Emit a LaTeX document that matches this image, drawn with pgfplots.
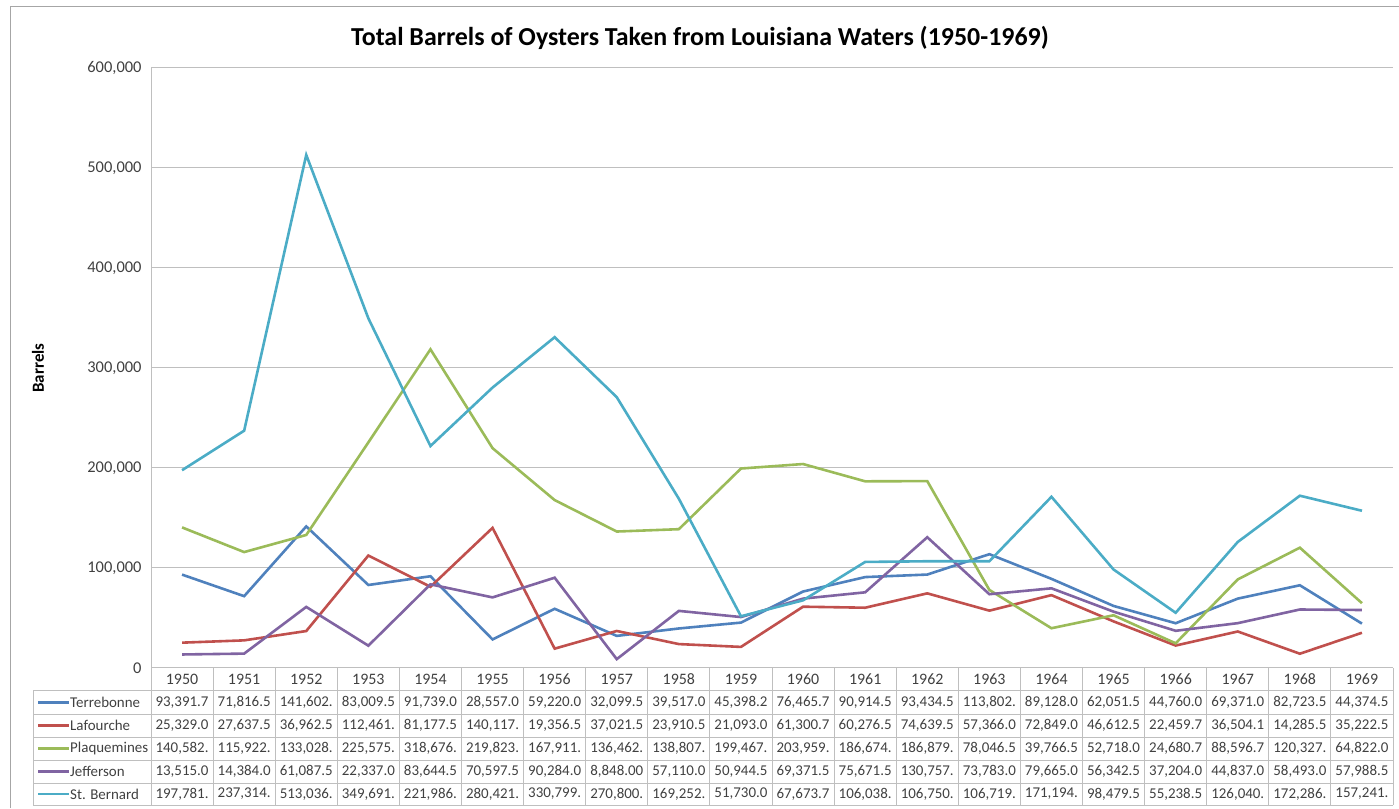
\documentclass[border=0pt]{standalone}
\usepackage{pgfplots}
\pgfplotsset{compat=1.18}
\usepackage{pgfplotstable}
\usepackage{fontspec}
\setmainfont{Carlito}
\definecolor{cT}{HTML}{4F81BD}
\definecolor{cL}{HTML}{C0504D}
\definecolor{cP}{HTML}{9BBB59}
\definecolor{cJ}{HTML}{8064A2}
\definecolor{cS}{HTML}{4BACC6}
\definecolor{gridc}{HTML}{BFBFBF}
\definecolor{txtc}{HTML}{404040}
\pgfplotstableread{
x T L P J S
0 93391.7 25329.0 140582 13515.0 197781
1 71816.5 27637.5 115922 14384.0 237314
2 141602 36962.5 133028 61087.5 513036
3 83009.5 112461 225575 22337.0 349691
4 91739.0 81177.5 318676 83644.5 221986
5 28557.0 140117 219823 70597.5 280421
6 59220.0 19356.5 167911 90284.0 330799
7 32099.5 37021.5 136462 8848.0 270800
8 39517.0 23910.5 138807 57110.0 169252
9 45398.2 21093.0 199467 50944.5 51730.0
10 76465.7 61300.7 203959 69371.5 67673.7
11 90914.5 60276.5 186674 75671.5 106038
12 93434.5 74639.5 186879 130757 106750
13 113802 57366.0 78046.5 73783.0 106719
14 89128.0 72849.0 39766.5 79665.0 171194
15 62051.5 46612.5 52718.0 56342.5 98479.5
16 44760.0 22459.7 24680.7 37204.0 55238.5
17 69371.0 36504.1 88596.7 44837.0 126040
18 82723.5 14285.5 120327 58493.0 172286
19 44374.5 35222.5 64822.0 57988.5 157241
}\data
\begin{document}
\begin{tikzpicture}[x=1bp,y=1bp]
\useasboundingbox (0,0) rectangle (1399,808);
% outer frame (left and top visible)
\draw[color=gray!70, line width=1bp] (10,0) -- (10,801) -- (1399,801);
\node[font=\fontsize{26}{30}\selectfont\bfseries, text=black] at (700,770) {Total Barrels of Oysters Taken from Louisiana Waters (1950-1969)};
\node[font=\fontsize{17}{20}\selectfont\bfseries, text=black, rotate=90] at (38,440) {Barrels};
\begin{axis}[
  at={(151bp,140bp)}, anchor=south west,
  scale only axis, width=1242bp, height=600bp,
  xmin=-0.5, xmax=19.5, ymin=0, ymax=600000,
  xtick=\empty,
  ytick={0,100000,...,600000},
  scaled y ticks=false,
  /pgf/number format/.cd, fixed, 1000 sep={,}, assume math mode=true, /pgfplots/.cd,
  yticklabel style={font=\fontsize{16.5}{19}\selectfont, text=txtc, xshift=-6bp},
  ymajorgrids, grid style={gridc, line width=1bp},
  major tick length=0pt,
  axis x line*=bottom, axis y line*=left,
  axis line style={gridc, line width=1bp, -},
  every axis plot/.append style={line width=2.6bp, no markers},
  clip=false,
]
\addplot[cT] table[x=x,y=T]{\data};
\addplot[cL] table[x=x,y=L]{\data};
\addplot[cP] table[x=x,y=P]{\data};
\addplot[cJ] table[x=x,y=J]{\data};
\addplot[cS] table[x=x,y=S]{\data};
\end{axis}
% data table
\begin{scope}[gridc, line width=1bp]
\foreach \k in {0,...,20} { \draw (151+62.1*\k,140) -- (151+62.1*\k,3); }
\foreach \yy in {117,94,71,48,25,3} { \draw (33,\yy) -- (1393,\yy); }
\draw (33,117) -- (33,3);
\end{scope}
\begin{scope}[font=\fontsize{16}{19}\selectfont, text=txtc]
\foreach \v [count=\i from 0] in {1950,1951,1952,1953,1954,1955,1956,1957,1958,1959,1960,1961,1962,1963,1964,1965,1966,1967,1968,1969}
  { \node at (151+62.1*\i+31.05,128.5) {\v}; }
\end{scope}
\begin{scope}[font=\fontsize{15}{18}\selectfont, text=txtc]
\foreach \v [count=\i from 0] in {{93,391.7},{71,816.5},{141,602.},{83,009.5},{91,739.0},{28,557.0},{59,220.0},{32,099.5},{39,517.0},{45,398.2},{76,465.7},{90,914.5},{93,434.5},{113,802.},{89,128.0},{62,051.5},{44,760.0},{69,371.0},{82,723.5},{44,374.5}}
  { \node at (151+62.1*\i+31.05,105.5) {\v}; }
\foreach \v [count=\i from 0] in {{25,329.0},{27,637.5},{36,962.5},{112,461.},{81,177.5},{140,117.},{19,356.5},{37,021.5},{23,910.5},{21,093.0},{61,300.7},{60,276.5},{74,639.5},{57,366.0},{72,849.0},{46,612.5},{22,459.7},{36,504.1},{14,285.5},{35,222.5}}
  { \node at (151+62.1*\i+31.05,82.5) {\v}; }
\foreach \v [count=\i from 0] in {{140,582.},{115,922.},{133,028.},{225,575.},{318,676.},{219,823.},{167,911.},{136,462.},{138,807.},{199,467.},{203,959.},{186,674.},{186,879.},{78,046.5},{39,766.5},{52,718.0},{24,680.7},{88,596.7},{120,327.},{64,822.0}}
  { \node at (151+62.1*\i+31.05,59.5) {\v}; }
\foreach \v [count=\i from 0] in {{13,515.0},{14,384.0},{61,087.5},{22,337.0},{83,644.5},{70,597.5},{90,284.0},{8,848.00},{57,110.0},{50,944.5},{69,371.5},{75,671.5},{130,757.},{73,783.0},{79,665.0},{56,342.5},{37,204.0},{44,837.0},{58,493.0},{57,988.5}}
  { \node at (151+62.1*\i+31.05,36.5) {\v}; }
\foreach \v [count=\i from 0] in {{197,781.},{237,314.},{513,036.},{349,691.},{221,986.},{280,421.},{330,799.},{270,800.},{169,252.},{51,730.0},{67,673.7},{106,038.},{106,750.},{106,719.},{171,194.},{98,479.5},{55,238.5},{126,040.},{172,286.},{157,241.}}
  { \node at (151+62.1*\i+31.05,14) {\v}; }
% legend keys
\foreach \c/\n/\yy in {cT/Terrebonne/105.5, cL/Lafourche/82.5, cP/Plaquemines/59.5, cJ/Jefferson/36.5, cS/St. Bernard/14}
  { \draw[\c, line width=2.6bp] (38,\yy) -- (69,\yy);
    \node[anchor=west, inner sep=0pt] at (70,\yy) {\n}; }
\end{scope}
\end{tikzpicture}
\end{document}
